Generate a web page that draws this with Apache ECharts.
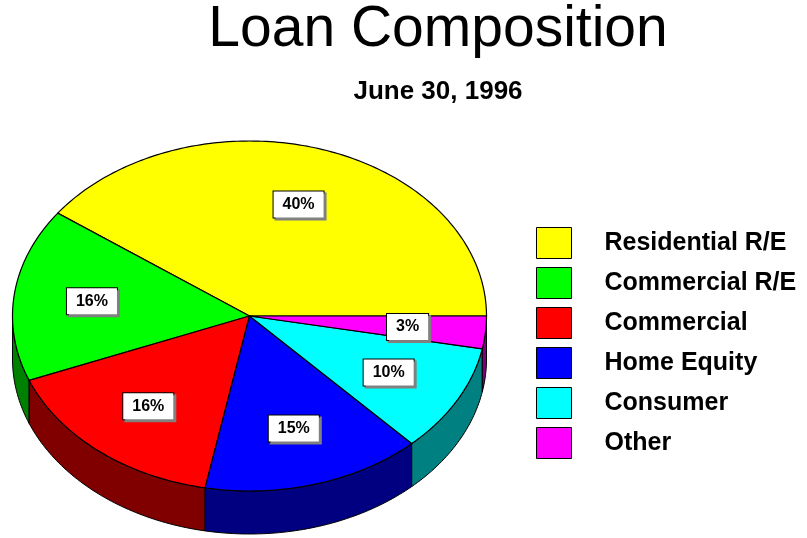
<!DOCTYPE html>
<html>
<head>
<meta charset="utf-8">
<script src="https://cdn.jsdelivr.net/npm/echarts@6/dist/echarts.min.js"></script>
<style>
  html, body { margin: 0; padding: 0; background: #fff; }
  #chart { width: 807px; height: 538px; }
</style>
</head>
<body>
<div id="chart"></div>
<script>
const categories = ['Residential R/E', 'Commercial R/E', 'Commercial', 'Home Equity', 'Consumer', 'Other']
const shares = [40, 16, 16, 15, 10, 3]
const topColors = ['#ffff00', '#00ff00', '#ff0000', '#0000ff', '#00ffff', '#ff00ff']
const sideColors = ['#808000', '#008000', '#800000', '#000080', '#008080', '#800080']

const FONT = '"Liberation Sans", Arial, sans-serif'
// tilted pie: ellipse centre, radii and wall height
const pie = { cx: 249.5, cy: 316, rx: 237, ry: 175, depth: 43 }
const total = shares.reduce((a, b) => a + b, 0)

// slices run counter-clockwise from 3 o'clock
const sliceAngles = (i) => {
  let start = 0
  for (let k = 0; k < i; k++) start += shares[k] / total * 360
  return [start, start + shares[i] / total * 360]
}

const pt = (deg, f = 1, dy = 0) => {
  const r = deg * Math.PI / 180
  return [pie.cx + f * pie.rx * Math.cos(r), pie.cy - f * pie.ry * Math.sin(r) + dy]
}

const arc = (a0, a1, dy = 0) => {
  const pts = []
  const n = Math.max(2, Math.ceil(Math.abs(a1 - a0)))
  for (let k = 0; k <= n; k++) pts.push(pt(a0 + (a1 - a0) * k / n, 1, dy))
  return pts
}

const renderSide = (params, api) => {
  const i = params.dataIndex
  const [a0, a1] = sliceAngles(i)
  // only the front half of the wall is visible
  const s = Math.max(a0, 180)
  const e = Math.min(a1, 360)
  if (s >= e) return { type: 'group', children: [] }
  return {
    type: 'polygon',
    shape: { points: arc(s, e).concat(arc(e, s, pie.depth)) },
    style: { fill: sideColors[i], stroke: '#000', lineWidth: 1 }
  }
}

const renderTop = (params, api) => {
  const i = params.dataIndex
  const [a0, a1] = sliceAngles(i)
  const mid = (a0 + a1) / 2
  const [lx, ly] = pt(mid, 0.67)
  const pct = Math.round(api.value(0) / total * 100) + '%'
  return {
    type: 'group',
    children: [
      {
        type: 'polygon',
        shape: { points: [[pie.cx, pie.cy]].concat(arc(a0, a1)) },
        style: { fill: topColors[i], stroke: '#000', lineWidth: 1.2 }
      },
      {
        type: 'text',
        z2: 10,
        style: {
          text: pct,
          x: lx,
          y: ly,
          align: 'center',
          verticalAlign: 'middle',
          font: 'bold 16px ' + FONT,
          fill: '#000',
          lineHeight: 16,
          backgroundColor: '#fff',
          borderColor: '#000',
          borderWidth: 1,
          padding: [5, 9, 5, 9],
          shadowColor: '#808080',
          shadowOffsetX: 2,
          shadowOffsetY: 2
        }
      }
    ]
  }
}

const seriesData = categories.map((name, i) => ({ name, value: shares[i] }))

const chart = echarts.init(document.getElementById('chart'))

const option = {
  backgroundColor: '#fff',
  animation: false,
  title: {
    text: 'Loan Composition',
    subtext: 'June 30, 1996',
    left: 433,
    textAlign: 'center',
    top: 0,
    padding: [2, 5, 5, 5],
    itemGap: 20,
    textStyle: { fontFamily: FONT, fontSize: 57, fontWeight: 'normal', color: '#000' },
    subtextStyle: { fontFamily: FONT, fontSize: 26, fontWeight: 'bold', color: '#000' }
  },
  legend: {
    orient: 'vertical',
    left: 531,
    top: 222,
    icon: 'rect',
    itemWidth: 35,
    itemHeight: 31,
    itemGap: 8,
    selectedMode: false,
    itemStyle: { borderColor: '#000', borderWidth: 1 },
    textStyle: {
      fontFamily: FONT,
      fontSize: 25,
      fontWeight: 'bold',
      color: '#000',
      padding: [0, 0, 0, 28]
    },
    data: categories
  },
  series: [
    {
      // feeds the legend only
      type: 'pie',
      radius: 0,
      center: [-50, -50],
      silent: true,
      label: { show: false },
      labelLine: { show: false },
      data: categories.map((name, i) => ({ name, value: shares[i], itemStyle: { color: topColors[i] } }))
    },
    {
      type: 'custom',
      name: 'walls',
      coordinateSystem: 'none',
      z: 1,
      silent: true,
      renderItem: renderSide,
      data: seriesData
    },
    {
      type: 'custom',
      name: 'tops',
      coordinateSystem: 'none',
      z: 2,
      silent: true,
      renderItem: renderTop,
      data: seriesData
    }
  ]
}

chart.setOption(option)
window.addEventListener('resize', () => chart.resize())
</script>
</body>
</html>
